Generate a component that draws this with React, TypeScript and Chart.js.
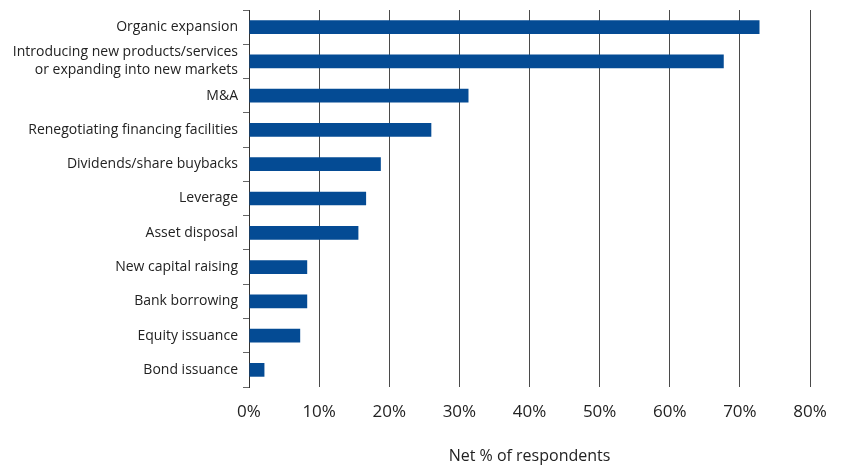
import React, { useEffect, useRef } from "react";
import { Chart, registerables } from "chart.js";

Chart.register(...registerables);

const categories: (string | string[])[] = [
  "Organic expansion",
  ["Introducing new products/services", "or expanding into new markets"],
  "M&A",
  "Renegotiating financing facilities",
  "Dividends/share buybacks",
  "Leverage",
  "Asset disposal",
  "New capital raising",
  "Bank borrowing",
  "Equity issuance",
  "Bond issuance",
];

const netPercent: number[] = [72.8, 67.7, 31.3, 26.0, 18.8, 16.7, 15.6, 8.3, 8.3, 7.3, 2.2];

const xTicks: number[] = [0, 10, 20, 30, 40, 50, 60, 70, 80];

const axisTitle = "Net % of respondents";

export default function App() {
  const ref = useRef<HTMLCanvasElement | null>(null);

  useEffect(() => {
    document.body.style.margin = "0";
    const canvas = ref.current;
    if (!canvas) return;
    const font = "'Open Sans', 'Noto Sans', sans-serif";
    const chart = new Chart(canvas, {
      type: "bar",
      data: {
        labels: categories,
        datasets: [
          {
            data: netPercent,
            backgroundColor: "#044b94",
            borderWidth: 0,
            barPercentage: 0.4,
            categoryPercentage: 1,
          },
        ],
      },
      options: {
        indexAxis: "y",
        animation: false,
        responsive: false,
        maintainAspectRatio: false,
        layout: { padding: { top: 10, right: 33, bottom: 0, left: 0 } },
        plugins: { legend: { display: false }, tooltip: { enabled: false } },
        scales: {
          x: {
            min: 0,
            max: 80,
            afterBuildTicks: (scale: any) => {
              scale.ticks = xTicks.map((v) => ({ value: v }));
            },
            afterFit: (scale: any) => {
              scale.height = 82;
            },
            grid: { color: "#4a4a4a", lineWidth: 1, drawTicks: false },
            border: { display: false },
            ticks: {
              padding: 15,
              autoSkip: false,
              maxRotation: 0,
              color: "#222",
              font: { family: font, size: 17 },
              callback: (v: any) => v + "%",
            },
            title: {
              display: true,
              text: axisTitle,
              color: "#222",
              font: { family: font, size: 16 },
              padding: { top: 0, bottom: 3 },
            },
          },
          y: {
            afterFit: (scale: any) => {
              scale.width = 249;
              scale.paddingTop = 0;
              scale.paddingBottom = 0;
            },
            grid: {
              offset: true,
              drawOnChartArea: false,
              drawTicks: true,
              tickLength: 6,
              color: "#666",
            },
            border: { display: true, color: "#333", width: 1 },
            ticks: {
              padding: 5,
              autoSkip: false,
              color: "#222",
              font: { family: font, size: 14, lineHeight: 1.3 },
            },
          },
        },
      },
    });
    return () => chart.destroy();
  }, []);

  return (
    <div style={{ width: 843, height: 469, background: "#fff" }}>
      <canvas ref={ref} width={843} height={469} style={{ display: "block" }} />
    </div>
  );
}
